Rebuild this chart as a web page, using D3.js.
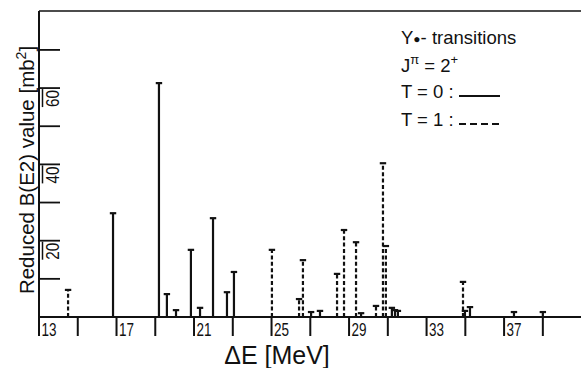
<!DOCTYPE html>
<html>
<head>
<meta charset="utf-8">
<script src="https://cdn.jsdelivr.net/npm/d3@7/dist/d3.min.js"></script>
<style>
  html, body { margin: 0; padding: 0; background: #fff; }
  svg { display: block; }
  text { font-family: "Liberation Sans", Arial, sans-serif; fill: #111; }
</style>
</head>
<body>
<svg id="chart" width="581" height="368"></svg>
<script>
// Excitation energies (MeV) of the 2+ transitions
const energies = [14.50, 16.82, 19.19, 19.60, 20.07, 20.84, 21.31, 21.98, 22.70, 23.06,
                  25.02, 26.42, 26.62, 27.04, 27.50, 28.38, 28.74, 29.36, 29.62, 30.39,
                  30.75, 30.90, 31.21, 31.37, 31.52, 34.88, 34.98, 35.24, 37.51, 39.00];
// Reduced B(E2) values (mb^2)
const values   = [7.1, 27.2, 61.3, 6.0, 1.8, 17.6, 2.4, 25.9, 6.5, 11.8,
                  17.6, 4.7, 14.9, 1.3, 1.6, 11.3, 22.8, 19.6, 1.0, 2.9,
                  40.3, 18.6, 2.4, 1.8, 1.6, 9.2, 1.6, 2.6, 1.3, 1.3];
// Isospin of each transition (0 = solid, 1 = dashed)
const isospin  = [1, 0, 0, 0, 0, 0, 0, 0, 0, 0,
                  1, 1, 1, 0, 0, 1, 1, 1, 0, 1,
                  1, 1, 0, 0, 0, 1, 0, 0, 0, 0];

const xTicks = [13, 15, 17, 19, 21, 23, 25, 27, 29, 31, 33, 35, 37, 39];
const xTickLabels = [13, 17, 21, 25, 29, 33, 37];
const yTicks = [10, 20, 30, 40, 50, 60, 70];
const yTickLabels = [20, 40, 60];

const svg = d3.select("#chart");
const x = d3.scaleLinear().domain([13, 41]).range([39, 581.6]);
const y = d3.scaleLinear().domain([0, 80.2]).range([317, 11]);
const ink = "#111";

// frame: left axis, top line, baseline
svg.append("line").attr("x1", x(13)).attr("x2", 581).attr("y1", y(80.2)).attr("y2", y(80.2))
  .attr("stroke", ink).attr("stroke-width", 1.7);
svg.append("line").attr("x1", x(13)).attr("x2", 581).attr("y1", y(0)).attr("y2", y(0))
  .attr("stroke", ink).attr("stroke-width", 2);
svg.append("line").attr("x1", x(13)).attr("x2", x(13)).attr("y1", y(80.2)).attr("y2", y(0) + 19)
  .attr("stroke", ink).attr("stroke-width", 2);

// x ticks hanging below the baseline
svg.append("g").selectAll("line").data(xTicks).join("line")
  .attr("x1", d => x(d)).attr("x2", d => x(d))
  .attr("y1", y(0)).attr("y2", y(0) + 19)
  .attr("stroke", ink).attr("stroke-width", 2);
svg.append("g").selectAll("text").data(xTickLabels).join("text")
  .attr("x", d => x(d) + 2.5).attr("y", y(0) + 18.5)
  .attr("font-size", 18.5).attr("textLength", 15).attr("lengthAdjust", "spacingAndGlyphs")
  .text(d => d);

// y ticks pointing into the plot
svg.append("g").selectAll("line").data(yTicks).join("line")
  .attr("x1", x(13)).attr("x2", x(13) + 21)
  .attr("y1", d => y(d)).attr("y2", d => y(d))
  .attr("stroke", ink).attr("stroke-width", 1.8);
svg.append("g").selectAll("line").data(yTickLabels).join("line")
  .attr("x1", x(13) + 3.5).attr("x2", x(13) + 3.5)
  .attr("y1", d => y(d) + 1).attr("y2", d => y(d) + 19)
  .attr("stroke", ink).attr("stroke-width", 1.5);
svg.append("g").selectAll("text").data(yTickLabels).join("text")
  .attr("transform", d => `translate(${x(13) + 19.5},${y(d) + 19}) rotate(-90)`)
  .attr("font-size", 19).attr("textLength", 17).attr("lengthAdjust", "spacingAndGlyphs")
  .text(d => d);

// transitions: vertical lines with a small cap
const bars = energies.map((e, i) => ({ e, v: values[i], t: isospin[i] }));
const g = svg.append("g");
g.selectAll("line.stem").data(bars).join("line")
  .attr("class", "stem")
  .attr("x1", d => x(d.e)).attr("x2", d => x(d.e))
  .attr("y1", y(0)).attr("y2", d => y(d.v))
  .attr("stroke", ink).attr("stroke-width", 2.2)
  .attr("stroke-dasharray", d => d.t === 1 ? "4,2.4" : null);
g.selectAll("line.cap").data(bars).join("line")
  .attr("class", "cap")
  .attr("x1", d => x(d.e) - 3.2).attr("x2", d => x(d.e) + 3.2)
  .attr("y1", d => y(d.v)).attr("y2", d => y(d.v))
  .attr("stroke", ink).attr("stroke-width", 2.2);

// axis titles
svg.append("text")
  .attr("transform", `translate(34,${170}) rotate(-90)`)
  .attr("text-anchor", "middle").attr("font-size", 20.5)
  .html('Reduced B(E2) value [mb<tspan dy="-8" font-size="14">2</tspan><tspan dy="8">]</tspan>');
svg.append("text")
  .attr("x", 277).attr("y", 364).attr("text-anchor", "middle")
  .attr("font-size", 25).text("ΔE [MeV]");

// legend
const lg = svg.append("g").attr("font-size", 18.5);
lg.append("text").attr("x", 401).attr("y", 44)
  .html('Y<tspan font-size="12" dy="-1">●</tspan><tspan dy="1">- transitions</tspan>');
lg.append("text").attr("x", 401).attr("y", 72)
  .html('J<tspan dy="-8" font-size="13">π</tspan><tspan dy="8"> = 2</tspan><tspan dy="-8" font-size="13">+</tspan>');
lg.append("text").attr("x", 401).attr("y", 98).text("T = 0 :");
lg.append("text").attr("x", 401).attr("y", 126).text("T = 1 :");
lg.append("line").attr("x1", 459).attr("x2", 500).attr("y1", 96).attr("y2", 96)
  .attr("stroke", ink).attr("stroke-width", 2);
lg.append("line").attr("x1", 459).attr("x2", 501).attr("y1", 124).attr("y2", 124)
  .attr("stroke", ink).attr("stroke-width", 2).attr("stroke-dasharray", "7,4");
</script>
</body>
</html>
